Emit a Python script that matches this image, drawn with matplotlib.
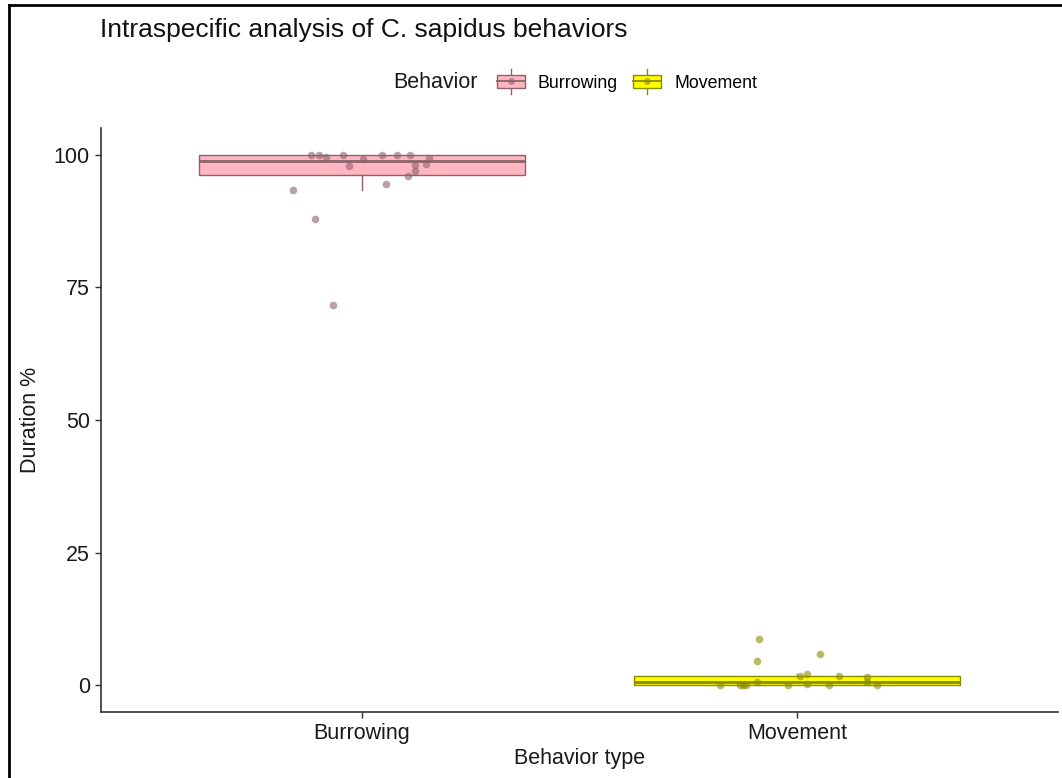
import matplotlib
matplotlib.use("Agg")
import matplotlib.pyplot as plt
from matplotlib.patches import Rectangle
from matplotlib.lines import Line2D
from matplotlib.legend_handler import HandlerBase

plt.rcParams["font.family"] = ["Liberation Sans", "DejaVu Sans"]

# --- data ---
categories = ["Burrowing", "Movement"]
burrowing = [100, 100, 99.6, 100, 97.8, 99.1, 100, 100, 100, 99.4,
             98.3, 98.1, 96.9, 95.9, 93.4, 94.4, 87.8, 71.7]
burrowing_jitter = [-0.117, -0.099, -0.083, -0.043, -0.029, 0.002, 0.047, 0.080,
                    0.111, 0.154, 0.147, 0.122, 0.122, 0.105, -0.159, 0.055,
                    -0.109, -0.066]
movement = [8.7, 4.6, 5.9, 2.2, 1.7, 0.7, 0, 0, 0, 0, 0, 0.2, 0, 1.7, 1.6, 0.7, 0]
movement_jitter = [-0.087, -0.091, 0.053, 0.024, 0.007, -0.091, -0.178, -0.131,
                   -0.125, -0.117, -0.020, 0.024, 0.073, 0.096, 0.160, 0.160, 0.183]
y_ticks = [0, 25, 50, 75, 100]

fills = ["#FFB6C1", "#FFFF00"]
edges = ["#8B636C", "#8B8B00"]

W, H = 1062, 778
fig = plt.figure(figsize=(W / 100, H / 100), dpi=100)
ax = fig.add_axes([101 / W, 1 - 712 / H, (1058 - 101) / W, (712 - 128) / H])

series = [burrowing, movement]
jitters = [burrowing_jitter, movement_jitter]
positions = [1, 2]

for i, (vals, pos) in enumerate(zip(series, positions)):
    bp = ax.boxplot([vals], positions=[pos], widths=0.75, whis=1.5,
                    showfliers=False, showcaps=False, patch_artist=True,
                    manage_ticks=False)
    for b in bp["boxes"]:
        b.set_facecolor(fills[i])
        b.set_edgecolor(edges[i])
        b.set_linewidth(1.0)
    for w in bp["whiskers"]:
        w.set_color(edges[i])
        w.set_linewidth(1.0)
    for m in bp["medians"]:
        m.set_color(edges[i])
        m.set_linewidth(2.0)

for i, (vals, jit, pos) in enumerate(zip(series, jitters, positions)):
    xs = [pos + j for j in jit]
    ax.scatter(xs, vals, s=30, color=edges[i], alpha=0.6, linewidths=0,
               zorder=4)

ax.set_xlim(0.4, 2.6)
ax.set_ylim(-5, 105)
ax.set_xticks(positions)
ax.set_xticklabels(categories)
ax.set_yticks(y_ticks)
ax.tick_params(labelsize=15.5, colors="#333333", labelcolor="#1a1a1a",
               length=4.5, width=1.0)
for s in ["top", "right"]:
    ax.spines[s].set_visible(False)
for s in ["left", "bottom"]:
    ax.spines[s].set_color("#333333")
    ax.spines[s].set_linewidth(1.2)

ax.set_xlabel("Behavior type", fontsize=15.5, color="#1a1a1a", labelpad=3)
ax.set_ylabel("Duration %", fontsize=15.5, color="#1a1a1a", labelpad=9)

fig.text(100 / W, 1 - 30 / H, "Intraspecific analysis of C. sapidus behaviors",
         fontsize=19, ha="left", va="center", color="#111111")


class BoxKey(HandlerBase):
    def create_artists(self, legend, orig_handle, xdescent, ydescent,
                       width, height, fontsize, trans):
        fc, ec = orig_handle
        x0, y0 = -xdescent, -ydescent
        cx, cy = x0 + width / 2, y0 + height / 2
        rect = Rectangle((x0, y0), width, height, facecolor=fc,
                         edgecolor=ec, lw=1.0, transform=trans)
        wl = Line2D([cx, cx], [y0 - 0.45 * height, y0 + 1.45 * height],
                    color=ec, lw=1.0, transform=trans)
        med = Line2D([x0, x0 + width], [cy, cy], color=ec, lw=1.3,
                     transform=trans)
        dot = Line2D([cx], [cy], marker="o", markersize=5, color=ec,
                     alpha=0.6, markeredgewidth=0, transform=trans)
        return [wl, rect, med, dot]


fig.text(393 / W, 1 - 82 / H, "Behavior", fontsize=15.5, ha="left",
         va="center", color="#1a1a1a")
leg = fig.legend([(fills[0], edges[0]), (fills[1], edges[1])], categories,
                 handler_map={tuple: BoxKey()}, ncol=2, frameon=False,
                 loc="center left", bbox_to_anchor=(497 / W, 1 - 83 / H),
                 fontsize=12.8, handlelength=1.55, handleheight=0.75,
                 handletextpad=0.75, columnspacing=0.85, borderpad=0.0,
                 borderaxespad=0.0)

# screenshot frame
fig.add_artist(Line2D([9 / W, 1], [1 - 5 / H, 1 - 5 / H], color="black",
                      lw=2.0, transform=fig.transFigure))
fig.add_artist(Line2D([9 / W, 9 / W], [0, 1 - 5 / H], color="black",
                      lw=2.0, transform=fig.transFigure))

fig.savefig("out.png", dpi=100, facecolor="white")
